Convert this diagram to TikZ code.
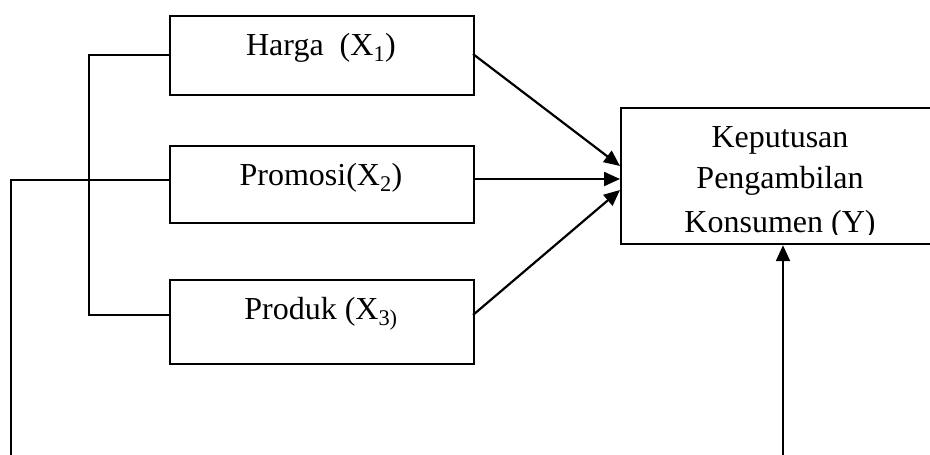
\documentclass[tikz,border=0pt]{standalone}
\usepackage{fontspec}
\setmainfont{Liberation Serif}
\usetikzlibrary{arrows.meta,calc}
\begin{document}
\begin{tikzpicture}[x=1pt,y=-1pt,
  box/.style={draw,line width=2.2pt,minimum width=304pt,inner sep=0pt,anchor=north west},
  lbl/.style={font=\fontsize{32}{42}\selectfont,anchor=base,inner sep=0pt},
  conn/.style={line width=2.2pt},
  arr/.style={line width=2.2pt,-{Triangle[length=16pt,width=14pt]}}]
\clip (0,0) rectangle (930,455);
% boxes
\node[box,minimum height=79pt] (harga) at (169,15) {};
\node[box,minimum height=77pt] (promosi) at (169,145) {};
\node[box,minimum height=84pt] (produk) at (169,279) {};
\node[box,minimum width=330pt,minimum height=136pt] (ybox) at (620,107) {};
% labels
\node[lbl] (t1) at (321,55) {Harga~~(X\textsubscript{1})};
\node[lbl] (t2) at (321,185) {Promosi(X\textsubscript{2})};
\node[lbl] (t3) at (321,319) {Produk (X\textsubscript{3)}};
\begin{scope}
\clip (620,107) rectangle (950,234);
\node[lbl] (y1) at (780,147) {Keputusan};
\node[lbl] (y2) at (780,188) {Pengambilan};
\node[lbl] (y3) at (780,232) {Konsumen (Y)};
\end{scope}
% connector points
\coordinate (hL) at (169,55);
\coordinate (pL) at (169,180);
\coordinate (dL) at (169,315);
\coordinate (hR) at (473,54);
\coordinate (pR) at (473,179);
\coordinate (dR) at (473,315);
\coordinate (yA) at (620,166);
\coordinate (yB) at (620,179);
\coordinate (yC) at (620,190);
\coordinate (brk) at (89,0);
\coordinate (lng) at (11,460);
\coordinate (vb) at (783,460);
% bracket
\draw[conn] (hL) -- (brk |- hL) -- (brk |- dL) -- (dL);
\draw[conn] (pL) -- (lng |- pL) -- (lng);
% arrows
\draw[arr] (hR) -- (yA);
\draw[arr] (pR) -- (yB);
\draw[arr] (dR) -- (yC);
\draw[arr] (vb) -- (vb |- ybox.south);
\end{tikzpicture}
\end{document}
